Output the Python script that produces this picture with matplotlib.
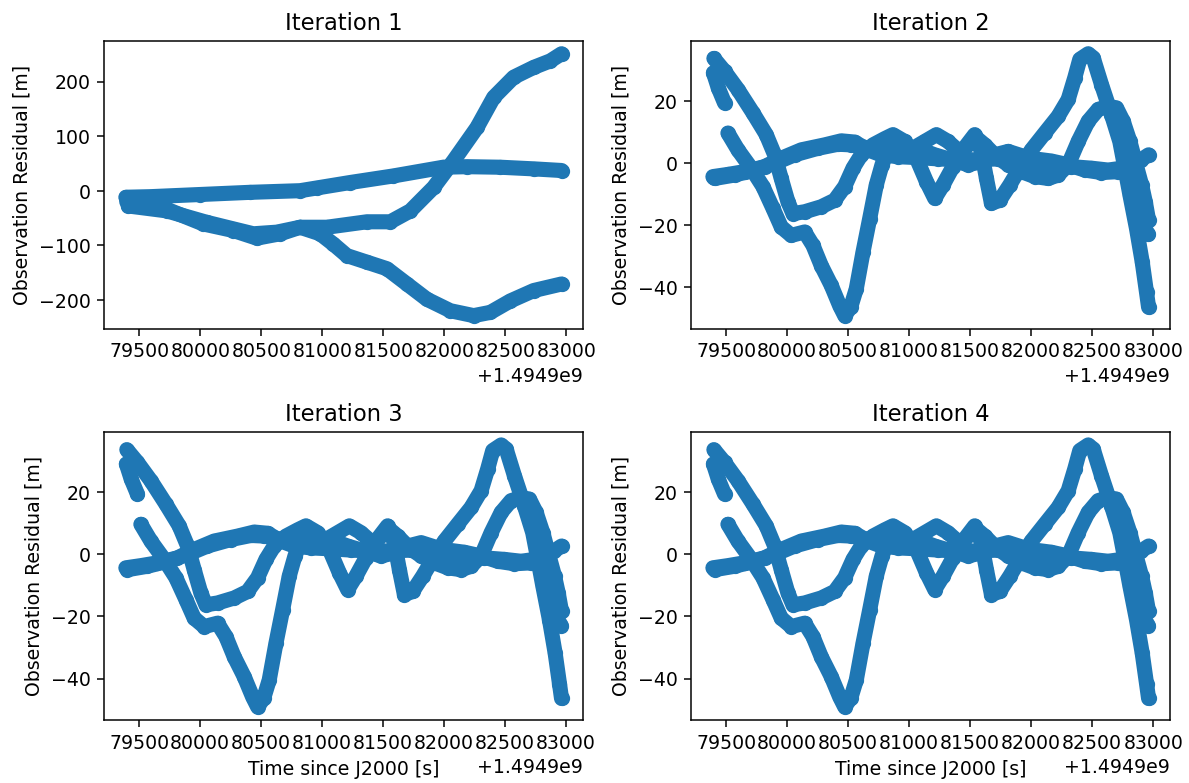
import numpy as np
import matplotlib
matplotlib.use("Agg")
import matplotlib.pyplot as plt

# Observation times are stored relative to this epoch [s since J2000]
EPOCH = 1.4949e9

# ---------------- Iteration 1 (initial estimate) ----------------
it1_track_a_t = [79397, 79725, 80025, 80271, 80463, 80654, 80818, 81037, 81365,
                 81557, 81721, 81912, 82076, 82268, 82404, 82568, 82732, 82869, 82960]
it1_track_a_r = [-20, -34, -61, -73, -87, -79, -67, -67, -57,
                 -57, -37, 6, 55, 116, 171, 208, 226, 238, 251]

it1_track_b_t = [79390, 79588, 79998, 80408, 80818, 80955, 81228, 81581,
                 81991, 82186, 82459, 82732, 82960]
it1_track_b_r = [-12, -11, -7, -3, 0, 5, 15, 27, 43, 44, 43, 40, 37]

it1_track_c_t = [79410, 79725, 80053, 80271, 80435, 80627, 80818, 80982, 81091,
                 81201, 81365, 81529, 81693, 81857, 82049, 82240, 82377, 82541,
                 82732, 82960]
it1_track_c_r = [-28, -37, -58, -70, -79, -76, -67, -79, -98,
                 -119, -131, -143, -171, -199, -220, -229, -223, -202,
                 -183, -171]

# ---------------- Iterations 2-4 (converged) ----------------
conv_track_1_t = [79399, 79486, 79596, 79719, 79828, 79897, 79951, 80006, 80047, 80143,
                  80279, 80389, 80471, 80539, 80607, 80703, 80799, 80867, 80963, 81059,
                  81141, 81209, 81277, 81359, 81441, 81537, 81592, 81633, 81674, 81742,
                  81824, 81906, 82002, 82111, 82221, 82303, 82357, 82398, 82467, 82508,
                  82576, 82658, 82726, 82768, 82809, 82863, 82910, 82945, 82962]
conv_track_1_r = [33.6, 29.5, 23.6, 16.1, 9.1, 2.6, -5.0, -12.5, -16.3, -15.7,
                  -14.1, -12.0, -7.6, -1.7, 2.6, 5.8, 7.8, 9.1, 6.9, 1.5,
                  -6.0, -11.4, -7.1, -1.2, 4.2, 9.1, 3.7, -5.0, -13.0, -12.0,
                  -7.1, -1.7, 4.2, 9.6, 15.0, 20.4, 27.4, 33.3, 35.1, 33.8,
                  25.2, 15.5, 6.9, -1.7, -10.3, -21.1, -31.9, -41.6, -46.4]

conv_track_2a_t = [79395, 79435, 79486]
conv_track_2a_r = [29.0, 24.1, 19.3]

conv_track_2b_t = [79514, 79596, 79705, 79801, 79883, 79951, 80033, 80143, 80211, 80279,
                   80361, 80430, 80471, 80520, 80566, 80621, 80676, 80730, 80777, 80826,
                   80853, 80936, 81031, 81127, 81223, 81318, 81428, 81537, 81619, 81715,
                   81811, 81920, 82029, 82139, 82221, 82303, 82385, 82467, 82549, 82631,
                   82699, 82754, 82809, 82860, 82905, 82935, 82962]
conv_track_2b_r = [9.6, 4.2, -1.7, -7.6, -14.6, -20.6, -23.3, -22.2, -26.5, -33.0,
                   -39.4, -45.9, -49.1, -46.4, -40.5, -28.7, -17.9, -7.1, -0.6, 4.2,
                   6.9, 5.8, 4.7, 6.9, 9.1, 6.9, 3.1, 8.5, 5.8, 2.0,
                   -0.6, -2.8, -4.4, -5.0, -3.9, -0.6, 6.9, 13.4, 17.2, 18.2,
                   17.7, 13.4, 6.9, -0.6, -7.1, -12.5, -18.4]

conv_track_3_t = [79391, 79514, 79650, 79814, 79951, 80115, 80307, 80443, 80553, 80662,
                  80771, 80908, 81072, 81236, 81400, 81564, 81728, 81892, 82029, 82166,
                  82303, 82439, 82576, 82713, 82822, 82900, 82962]
conv_track_3_r = [-4.4, -3.7, -2.8, -1.2, 1.5, 4.2, 5.8, 7.1, 6.7, 4.2,
                  2.6, 2.0, 1.7, 1.3, 1.0, 1.0, 1.3, 1.7, 1.3, 0.6,
                  -0.6, -2.3, -3.1, -2.8, -0.9, 1.0, 2.6]

conv_track_4_t = [79404, 79568, 79732, 79897, 80060, 80252, 80416, 80525, 80635, 80744,
                  80853, 80963, 81100, 81209, 81346, 81482, 81592, 81701, 81811, 81947,
                  82084, 82193, 82330, 82494, 82631, 82740, 82795, 82850, 82885, 82925,
                  82960]
conv_track_4_r = [-5.0, -3.9, -2.3, -0.1, 2.6, 4.7, 6.0, 5.8, 5.0, 3.5,
                  4.7, 5.3, 4.2, 2.6, 1.0, -0.6, 0.4, 2.6, 3.7, 2.0,
                  -1.2, -1.7, -1.2, -1.7, -2.3, -1.7, -3.9, -10.3, -15.7, -20.6,
                  -23.0]

iteration_titles = ["Iteration 1", "Iteration 2", "Iteration 3", "Iteration 4"]

iteration_1 = [(it1_track_a_t, it1_track_a_r),
               (it1_track_b_t, it1_track_b_r),
               (it1_track_c_t, it1_track_c_r)]
converged = [(conv_track_1_t, conv_track_1_r),
             (conv_track_2a_t, conv_track_2a_r),
             (conv_track_2b_t, conv_track_2b_r),
             (conv_track_3_t, conv_track_3_r),
             (conv_track_4_t, conv_track_4_r)]
residuals_per_iteration = [iteration_1, converged, converged, converged]

DPI = 136
fig, axes = plt.subplots(2, 2, figsize=(1189.4 / DPI, 783.4 / DPI), dpi=DPI)
fig.subplots_adjust(left=0.0875, right=0.984, bottom=0.0805, top=0.9476,
                    wspace=0.225, hspace=0.358)

for i, (ax, title, tracks) in enumerate(zip(axes.flat, iteration_titles,
                                            residuals_per_iteration)):
    for t, r in tracks:
        times = EPOCH + np.asarray(t, dtype=float)
        ax.plot(times, r, '-', color='C0', lw=8.0,
                solid_capstyle='round', solid_joinstyle='round')
        ax.scatter(times, r, s=50, color='C0')
    ax.set_title(title)
    ax.set_ylabel("Observation Residual [m]")
    if i >= 2:
        ax.set_xlabel("Time since J2000 [s]")

fig.savefig("out.png", dpi=DPI)
